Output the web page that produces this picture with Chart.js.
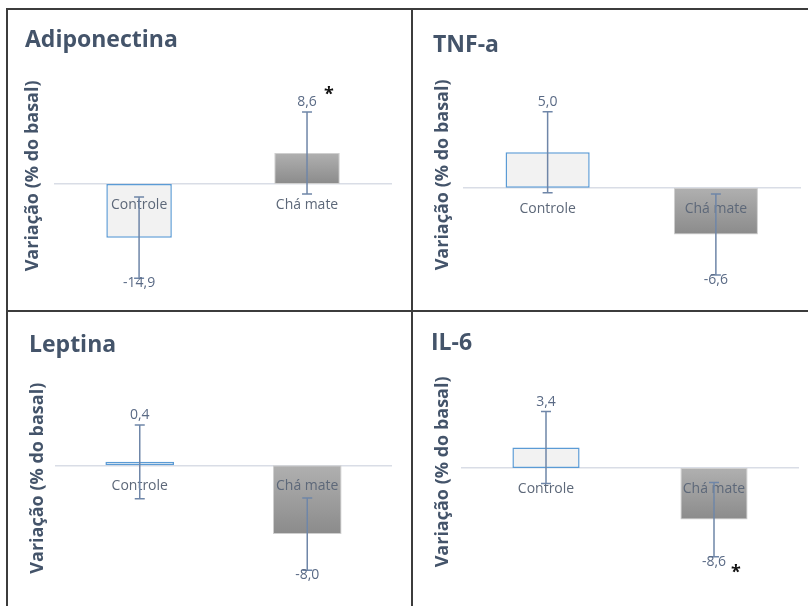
<!DOCTYPE html>
<html>
<head>
<meta charset="utf-8">
<script src="https://cdn.jsdelivr.net/npm/chart.js@4.4.1/dist/chart.umd.min.js"></script>
<style>
  body { margin: 0; background: #fff; }
  #page { position: relative; width: 808px; height: 606px; overflow: hidden; }
  canvas { position: absolute; }
  .line { position: absolute; background: #3c3c3c; }
</style>
</head>
<body>
<div id="page">
  <canvas id="c1" width="402" height="300" style="left:9px;top:10px"></canvas>
  <canvas id="c2" width="394" height="300" style="left:414px;top:10px"></canvas>
  <canvas id="c3" width="402" height="293" style="left:9px;top:313px"></canvas>
  <canvas id="c4" width="394" height="293" style="left:414px;top:313px"></canvas>
  <div class="line" style="left:6px;top:8px;width:802px;height:2px"></div>
  <div class="line" style="left:6px;top:8px;width:2px;height:598px"></div>
  <div class="line" style="left:411px;top:8px;width:2px;height:598px"></div>
  <div class="line" style="left:6px;top:310px;width:802px;height:2px"></div>
</div>
<script>
// data
const categories = ['Controle', 'Chá mate'];

const adiponectinaValues = [-14.9, 8.6];
const adiponectinaErrors = [11.3, 11.4];
const adiponectinaSig = [false, true];

const tnfValues = [5.0, -6.6];
const tnfErrors = [5.7, 5.7];
const tnfSig = [false, false];

const leptinaValues = [0.4, -8.0];
const leptinaErrors = [4.3, 4.2];
const leptinaSig = [false, false];

const il6Values = [3.4, -8.6];
const il6Errors = [6.0, 6.2];
const il6Sig = [false, true];

Chart.defaults.font.family = "'Open Sans', sans-serif";

// gray gradient for the tea bar
function barFill(ctx) {
    if (ctx.dataIndex === 0) return '#f2f2f2';
    const chart = ctx.chart;
    if (!ctx.parsed || !chart.chartArea) return '#9e9e9e';
    const y = chart.scales.y;
    const a = y.getPixelForValue(0);
    const b = y.getPixelForValue(ctx.parsed.y);
    const g = chart.ctx.createLinearGradient(0, Math.min(a, b), 0, Math.max(a, b));
    g.addColorStop(0, '#b0b0b0');
    g.addColorStop(1, '#8b8b8b');
    return g;
}

// error bars + value labels + significance star
const errorBars = {
    id: 'errorBars',
    afterDraw(chart) {
        const ds = chart.data.datasets[0];
        const y = chart.scales.y;
        const ctx = chart.ctx;
        chart.getDatasetMeta(0).data.forEach((bar, i) => {
            const v = ds.data[i];
            const e = ds.errors[i];
            const yTop = y.getPixelForValue(v + e);
            const yBot = y.getPixelForValue(v - e);
            ctx.save();
            ctx.strokeStyle = '#6f86a8';
            ctx.lineWidth = 1.5;
            ctx.beginPath();
            ctx.moveTo(bar.x, yTop); ctx.lineTo(bar.x, yBot);
            ctx.moveTo(bar.x - 5, yTop); ctx.lineTo(bar.x + 5, yTop);
            ctx.moveTo(bar.x - 5, yBot); ctx.lineTo(bar.x + 5, yBot);
            ctx.stroke();

            const ly = v >= 0 ? yTop - 10 : yBot + 5;
            ctx.fillStyle = '#5a6a85';
            ctx.font = "14px 'Open Sans'";
            ctx.textAlign = 'center';
            ctx.textBaseline = 'middle';
            ctx.fillText(v.toFixed(1).replace('.', ','), bar.x, ly);

            if (ds.sig[i]) {
                ctx.fillStyle = '#111';
                ctx.font = "bold 18px 'Open Sans'";
                ctx.textBaseline = 'alphabetic';
                const sy = v >= 0 ? ly - 12 : ly + 6;
                ctx.fillText('*', bar.x + 22, sy + 10);
            }
            ctx.restore();
        });
    }
};

function makePanel(id, title, values, errors, sig, box) {
    const data = {
        labels: categories,
        datasets: [{
            data: values,
            errors: errors,
            sig: sig,
            backgroundColor: barFill,
            borderColor: ['#5b9bd5', '#cfcfcf'],
            borderWidth: [1.5, 1],
            borderSkipped: false,
            barPercentage: box.barPct,
            categoryPercentage: 1
        }]
    };

    const config = {
        type: 'bar',
        data,
        options: {
            responsive: false,
            animation: false,
            layout: {
                padding: { left: box.left, right: box.right, top: 0, bottom: box.bottom }
            },
            plugins: {
                legend: { display: false },
                tooltip: { enabled: false },
                title: {
                    display: true,
                    text: title,
                    align: 'start',
                    color: '#44546a',
                    font: { size: 23, weight: 'bold', lineHeight: 1.2 },
                    padding: { top: box.titleTop, bottom: box.titleBottom }
                }
            },
            scales: {
                x: {
                    position: { y: 0 },
                    grid: { display: false, drawTicks: false },
                    border: { display: true, color: '#d9dde6', width: 1.5 },
                    ticks: { color: '#5d6879', font: { size: 14 }, padding: 12.5, z: 1 }
                },
                y: {
                    min: box.min,
                    max: box.max,
                    grid: { display: false, drawTicks: false },
                    border: { display: false },
                    ticks: { display: false },
                    title: {
                        display: true,
                        text: 'Variação (% do basal)',
                        color: '#44546a',
                        font: { size: 18, weight: 'bold', lineHeight: 0.9 },
                        padding: { top: box.yPadTop, bottom: box.yPadBottom }
                    }
                }
            }
        },
        plugins: [errorBars]
    };

    return new Chart(document.getElementById(id), config);
}

makePanel('c1', 'Adiponectina', adiponectinaValues, adiponectinaErrors, adiponectinaSig,
    { left: 16, right: 20, bottom: 34.2, titleTop: 16.2, titleBottom: 22.2, yPadTop: 0, yPadBottom: 13.9, min: -25.5, max: 30, barPct: 0.39 });
makePanel('c2', 'TNF-a', tnfValues, tnfErrors, tnfSig,
    { left: 19, right: 8, bottom: 41.4, titleTop: 21.2, titleBottom: 22.4, yPadTop: 1.9, yPadBottom: 12.4, min: -11.4, max: 15, barPct: 0.5 });
makePanel('c3', 'Leptina', leptinaValues, leptinaErrors, leptinaSig,
    { left: 20, right: 20, bottom: 28.9, titleTop: 18.2, titleBottom: 20.5, yPadTop: 0.9, yPadBottom: 9.9, min: -13, max: 10, barPct: 0.41 });
makePanel('c4', 'IL-6', il6Values, il6Errors, il6Sig,
    { left: 17, right: 10, bottom: 40.2, titleTop: 16.2, titleBottom: 21.2, yPadTop: 3.9, yPadBottom: 10.9, min: -16.3, max: 15, barPct: 0.4 });
</script>
</body>
</html>
